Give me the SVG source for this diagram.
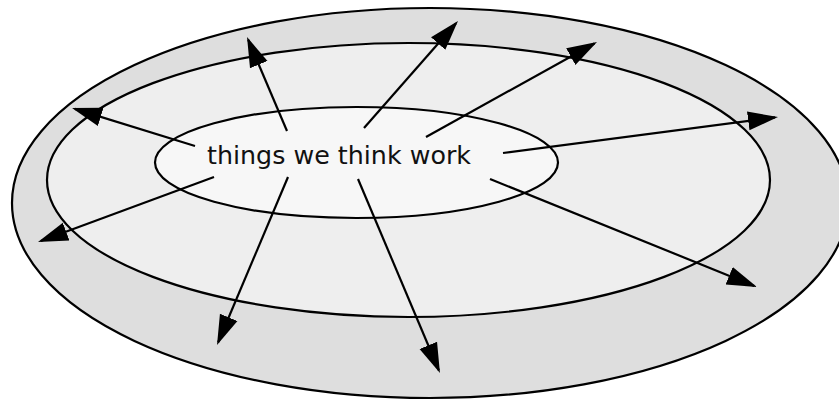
<svg xmlns="http://www.w3.org/2000/svg" width="839" height="400" viewBox="0 0 839 400">
<style>
.ring{stroke:#000;stroke-width:2.2}
.arr{fill:none;stroke:#000;stroke-width:2.2;marker-end:url(#ah)}
.lbl{font-family:"DejaVu Sans",Verdana,sans-serif;font-size:25px;fill:#111}
</style>
<defs>
<marker id="ah" markerUnits="userSpaceOnUse" markerWidth="34" markerHeight="24" viewBox="0 -12 34 24" refX="27" refY="0" orient="auto">
<path d="M0,-9.5 L30,0 L0,9.5 z" fill="#000"/>
</marker>
</defs>
<rect width="839" height="400" fill="#fff"/>
<g id="outer"><ellipse class="ring" cx="430" cy="203" rx="418" ry="195" fill="#dedede"/></g>
<g id="middle"><ellipse class="ring" cx="408.5" cy="180" rx="361.5" ry="137" fill="#eeeeee"/></g>
<g id="inner"><ellipse class="ring" cx="356.5" cy="162.5" rx="201.5" ry="55.5" fill="#f7f7f7"/>
<text class="lbl" x="207" y="164" textLength="264" lengthAdjust="spacingAndGlyphs">things we think work</text></g>
<g id="connectors">
<line class="arr" x1="195" y1="146" x2="74.9" y2="108.9"/>
<line class="arr" x1="287" y1="131" x2="248.2" y2="39.8"/>
<line class="arr" x1="364" y1="128" x2="456" y2="23.3"/>
<line class="arr" x1="426" y1="137" x2="594.4" y2="43.5"/>
<line class="arr" x1="503" y1="153" x2="775" y2="117.4"/>
<line class="arr" x1="490" y1="179" x2="754.2" y2="285.9"/>
<line class="arr" x1="358" y1="179" x2="438.8" y2="370.2"/>
<line class="arr" x1="288" y1="177" x2="218.2" y2="342.2"/>
<line class="arr" x1="214" y1="177" x2="40.8" y2="241"/>
</g>
</svg>
